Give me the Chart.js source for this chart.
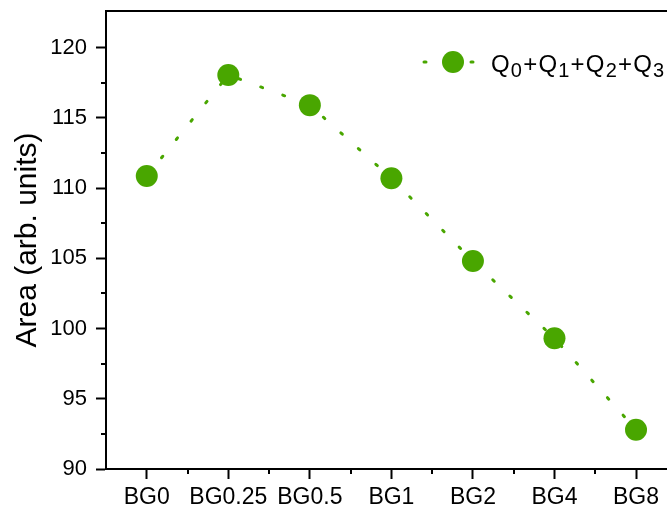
<!DOCTYPE html>
<html>
<head>
<meta charset="utf-8">
<script src="https://cdn.jsdelivr.net/npm/chart.js"></script>
<style>
  html, body { margin: 0; padding: 0; background: #fff; overflow: hidden; }
</style>
</head>
<body>
<canvas id="grafico" width="667" height="511"></canvas>
<script>
// amostras e area medida
const amostras = ['BG0', 'BG0.25', 'BG0.5', 'BG1', 'BG2', 'BG4', 'BG8'];
const area = [110.85, 118.05, 115.9, 110.7, 104.8, 99.3, 92.8];

const ticksY = [90, 95, 100, 105, 110, 115, 120];
const menoresY = [92.5, 97.5, 102.5, 107.5, 112.5, 117.5];
const menoresX = [0.5, 1.5, 2.5, 3.5, 4.5, 5.5];

// '_' marca o caractere seguinte como subscrito
const legenda = 'Q_0+Q_1+Q_2+Q_3';

const verde = '#49a600';
const fonte = "'Liberation Sans', Arial, sans-serif";

const extras = {
    id: 'extras',
    afterDraw(chart) {
        const { ctx, chartArea: a, scales: { x, y } } = chart;
        ctx.save();

        // ticks menores + borda de cima
        ctx.strokeStyle = '#000';
        ctx.lineWidth = 2;
        ctx.beginPath();
        menoresX.forEach(v => {
            const px = Math.round(x.getPixelForValue(v));
            ctx.moveTo(px, a.bottom);
            ctx.lineTo(px, a.bottom + 5);
        });
        menoresY.forEach(v => {
            const py = Math.round(y.getPixelForValue(v));
            ctx.moveTo(a.left, py);
            ctx.lineTo(a.left - 5, py);
        });
        ctx.moveTo(a.left - 1, a.top);
        ctx.lineTo(a.right, a.top);
        ctx.stroke();

        // legenda
        const ly = 62;
        ctx.strokeStyle = verde;
        ctx.lineWidth = 3;
        ctx.lineCap = 'round';
        ctx.setLineDash([2, 21.5]);
        ctx.beginPath();
        ctx.moveTo(424, ly);
        ctx.lineTo(474, ly);
        ctx.stroke();
        ctx.setLineDash([]);
        ctx.fillStyle = verde;
        ctx.beginPath();
        ctx.arc(453, ly, 11, 0, Math.PI * 2);
        ctx.fill();

        ctx.fillStyle = '#000';
        ctx.textBaseline = 'alphabetic';
        ctx.textAlign = 'left';
        let tx = 491;
        for (let i = 0; i < legenda.length; i++) {
            let ch = legenda[i];
            let sub = false;
            if (ch === '_') { sub = true; ch = legenda[++i]; }
            ctx.font = (sub ? 20 : 24) + 'px ' + fonte;
            ctx.fillText(ch, tx, sub ? 77 : 72);
            tx += ctx.measureText(ch).width + 1.2;
        }
        ctx.restore();
    }
};

const eixo = {
    grid: { drawOnChartArea: false, tickLength: 10, tickWidth: 2, tickColor: '#000' },
    border: { color: '#000', width: 2 }
};

new Chart(document.getElementById('grafico'), {
    type: 'line',
    data: {
        datasets: [{
            label: 'Q0+Q1+Q2+Q3',
            data: area.map((v, i) => ({ x: i, y: v })),
            borderColor: verde,
            backgroundColor: verde,
            borderWidth: 3,
            borderDash: [2, 21.5],
            borderCapStyle: 'round',
            pointRadius: 11,
            pointHoverRadius: 11,
            pointBorderWidth: 0,
            tension: 0
        }]
    },
    options: {
        responsive: false,
        animation: false,
        devicePixelRatio: 1,
        layout: { autoPadding: false, padding: { top: 11, right: 0, left: 0, bottom: 0 } },
        plugins: {
            legend: { display: false },
            tooltip: { enabled: false }
        },
        scales: {
            x: {
                ...eixo,
                type: 'linear',
                min: -0.5,
                max: 6.38,
                afterBuildTicks: s => { s.ticks = amostras.map((_, i) => ({ value: i })); },
                afterFit: s => { s.height = 42; s.paddingLeft = 0; s.paddingRight = 0; },
                ticks: {
                    callback: v => amostras[v],
                    font: { size: 23, family: fonte },
                    color: '#000',
                    padding: 5,
                    maxRotation: 0,
                    autoSkip: false
                }
            },
            y: {
                ...eixo,
                min: 90,
                max: 122.6,
                afterBuildTicks: s => { s.ticks = ticksY.map(v => ({ value: v })); },
                afterFit: s => { s.width = 106; s.paddingTop = 0; s.paddingBottom = 0; },
                ticks: {
                    font: { size: 22, family: fonte },
                    color: '#000',
                    padding: 9
                },
                title: {
                    display: true,
                    text: 'Area (arb. units)',
                    font: { size: 30, family: fonte },
                    color: '#000',
                    padding: { top: 10, bottom: 0 }
                }
            }
        }
    },
    plugins: [extras]
});
</script>
</body>
</html>
